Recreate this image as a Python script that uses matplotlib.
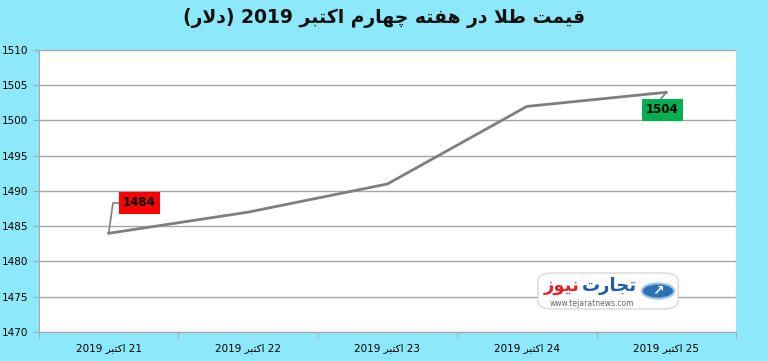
import re
import matplotlib
matplotlib.use("Agg")
import matplotlib.pyplot as plt
from matplotlib.patches import Circle, FancyBboxPatch

# Data
days = ["21 اکتبر 2019", "22 اکتبر 2019", "23 اکتبر 2019", "24 اکتبر 2019", "25 اکتبر 2019"]
prices = [1484, 1487, 1491, 1502, 1504]
y_ticks = [1470, 1475, 1480, 1485, 1490, 1495, 1500, 1505, 1510]
title = "قیمت طلا در هفته چهارم اکتبر 2019 (دلار)"

BG = "#8de9f9"
LINE = "#7f7f7f"

# minimal Arabic/Persian shaping (iso, fin, ini, med)
FORMS = {
    "ا": ("\uFE8D", "\uFE8E", None, None),
    "ب": ("\uFE8F", "\uFE90", "\uFE91", "\uFE92"),
    "ت": ("\uFE95", "\uFE96", "\uFE97", "\uFE98"),
    "ج": ("\uFE9D", "\uFE9E", "\uFE9F", "\uFEA0"),
    "چ": ("\uFB7A", "\uFB7B", "\uFB7C", "\uFB7D"),
    "د": ("\uFEA9", "\uFEAA", None, None),
    "ر": ("\uFEAD", "\uFEAE", None, None),
    "ز": ("\uFEAF", "\uFEB0", None, None),
    "ط": ("\uFEC1", "\uFEC2", "\uFEC3", "\uFEC4"),
    "ف": ("\uFED1", "\uFED2", "\uFED3", "\uFED4"),
    "ق": ("\uFED5", "\uFED6", "\uFED7", "\uFED8"),
    "ک": ("\uFB8E", "\uFB8F", "\uFB90", "\uFB91"),
    "ل": ("\uFEDD", "\uFEDE", "\uFEDF", "\uFEE0"),
    "م": ("\uFEE1", "\uFEE2", "\uFEE3", "\uFEE4"),
    "ن": ("\uFEE5", "\uFEE6", "\uFEE7", "\uFEE8"),
    "ه": ("\uFEE9", "\uFEEA", "\uFEEB", "\uFEEC"),
    "و": ("\uFEED", "\uFEEE", None, None),
    "ی": ("\uFBFC", "\uFBFD", "\uFBFE", "\uFBFF"),
}


def shape(text):
    out = []
    i = 0
    while i < len(text):
        c = text[i]
        if c not in FORMS:
            out.append(c)
            i += 1
            continue
        prev = text[i - 1] if i > 0 else ""
        jp = prev in FORMS and FORMS[prev][2] is not None
        if c == "ل" and i + 1 < len(text) and text[i + 1] == "ا":
            out.append("\uFEFC" if jp else "\uFEFB")
            i += 2
            continue
        nxt = text[i + 1] if i + 1 < len(text) else ""
        iso, fin, ini, med = FORMS[c]
        jn = ini is not None and nxt in FORMS
        if jp and jn:
            out.append(med)
        elif jp:
            out.append(fin)
        elif jn:
            out.append(ini)
        else:
            out.append(iso)
        i += 1
    return "".join(out)


def rtl(text):
    s = shape(text)[::-1]
    s = re.sub(r"[0-9A-Za-z.]+", lambda m: m.group(0)[::-1], s)
    return s.translate(str.maketrans("()", ")("))


fig = plt.figure(figsize=(7.68, 3.61), dpi=100)
fig.patch.set_facecolor(BG)
ax = fig.add_axes([39 / 768, 29 / 361, 697 / 768, 282 / 361])
ax.set_facecolor("white")

x = list(range(len(days)))
ax.plot(x, prices, color=LINE, lw=2, solid_joinstyle="miter", zorder=3)

ax.set_xlim(-0.5, len(days) - 0.5)
ax.set_ylim(y_ticks[0], y_ticks[-1])
ax.set_yticks(y_ticks)
ax.set_yticklabels([str(v) for v in y_ticks], fontsize=7.5, family="DejaVu Sans")
ax.yaxis.grid(True, color="#a6a6a6", lw=1)
ax.set_axisbelow(True)

ax.set_xticks(x)
ax.set_xticklabels([rtl(d) for d in days], fontsize=7.5, family="DejaVu Sans")
ax.set_xticks([i - 0.5 for i in range(len(days) + 1)], minor=True)
ax.tick_params(axis="x", which="major", length=0, pad=8)
ax.tick_params(axis="x", which="minor", length=4, color="#a6a6a6")
ax.tick_params(axis="y", length=4, color="#a6a6a6", pad=4)

for sp in ["top", "right"]:
    ax.spines[sp].set_visible(False)
ax.spines["left"].set_color("#a6a6a6")
ax.spines["bottom"].set_color("#a6a6a6")

# data labels
ax.annotate(str(prices[0]), xy=(0, prices[0]), xytext=(0.22, prices[0] + 4.3),
            ha="center", va="center", fontsize=8.5, fontweight="bold",
            bbox=dict(boxstyle="square,pad=0.35", fc="#ff0000", ec="none"),
            arrowprops=dict(arrowstyle="-", color=LINE, lw=1.2, shrinkA=0, shrinkB=0,
                            connectionstyle="angle,angleA=0,angleB=82,rad=0"),
            zorder=5)
ax.annotate(str(prices[-1]), xy=(4, prices[-1]), xytext=(3.97, prices[-1] - 2.5),
            ha="center", va="center", fontsize=8.5, fontweight="bold",
            bbox=dict(boxstyle="square,pad=0.35", fc="#00b050", ec="none"),
            arrowprops=dict(arrowstyle="-", color=LINE, lw=1.2, shrinkA=0, shrinkB=0,
                            relpos=(0.35, 1.0)),
            zorder=5)

fig.text(0.5, 0.95, rtl(title), ha="center", va="center", fontsize=13.5,
         fontweight="bold", family="DejaVu Sans", color="#111111")

# watermark logo
logo = FancyBboxPatch((538 / 768, 52 / 361), 140 / 768, 36 / 361,
                      boxstyle="round,pad=0.0,rounding_size=0.02",
                      transform=fig.transFigure, fc="white", ec="#d0d0d0", lw=0.8, zorder=6)
fig.patches.append(logo)
fig.patches.append(Circle((658 / 768, 70 / 361), 0.021, transform=fig.transFigure,
                          fc="#2a6fb8", ec="#9cc3e8", lw=1.5, zorder=7))
fig.text(658 / 768, 70 / 361, "\u2197", ha="center", va="center", fontsize=10,
         color="white", fontweight="bold", zorder=8)
fig.text(637 / 768, 75 / 361, rtl("تجارت"), ha="right", va="center", fontsize=13,
         fontweight="bold", color="#1f5ea8", family="DejaVu Sans", zorder=8)
fig.text(580 / 768, 75 / 361, rtl("نیوز"), ha="right", va="center", fontsize=13,
         fontweight="bold", color="#e3262b", family="DejaVu Sans", zorder=8)
fig.text(592 / 768, 58 / 361, "www.tejaratnews.com", ha="center", va="center",
         fontsize=5.5, color="#666666", zorder=8)

fig.savefig("out.png", dpi=100, facecolor=BG)
